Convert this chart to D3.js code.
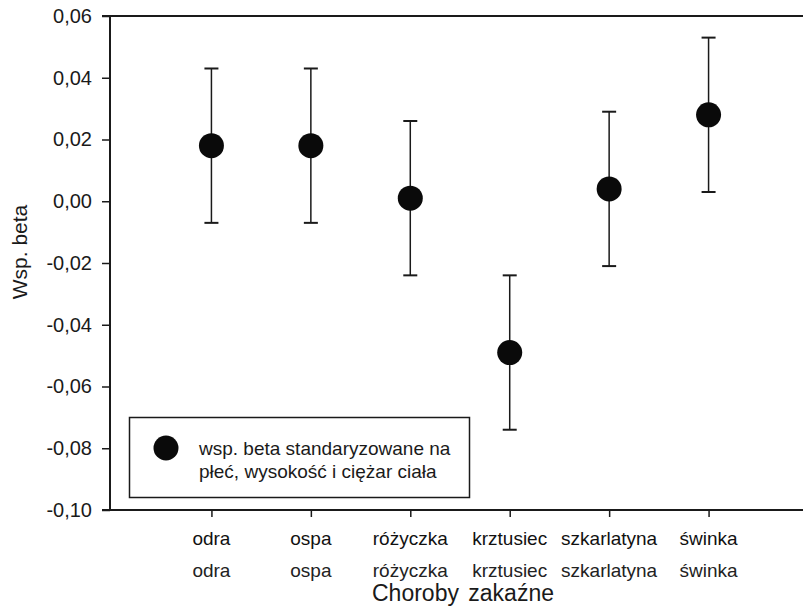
<!DOCTYPE html>
<html>
<head>
<meta charset="utf-8">
<script src="https://cdn.jsdelivr.net/npm/d3@7"></script>
<style>
  body { margin: 0; background: #fff; }
  svg { font-family: "Liberation Sans", Arial, sans-serif; }
</style>
</head>
<body>
<svg id="chart" width="803" height="606"></svg>
<script>
// Data
const categories = ['odra', 'ospa', 'różyczka', 'krztusiec', 'szkarlatyna', 'świnka'];
const beta = [0.018, 0.018, 0.001, -0.049, 0.004, 0.028];
const lower = [-0.007, -0.007, -0.024, -0.074, -0.021, 0.003];
const upper = [0.043, 0.043, 0.026, -0.024, 0.029, 0.053];
const yTicks = [0.06, 0.04, 0.02, 0.00, -0.02, -0.04, -0.06, -0.08, -0.10];

const svg = d3.select('#chart');
const ink = '#1a1a1a';

const x = d3.scaleLinear().domain([0, 7]).range([112, 808]);
const y = d3.scaleLinear().domain([-0.10, 0.06]).range([510, 16]);

const fmt = d => d3.format('.2f')(d).replace('.', ',').replace('−', '-');

// Y axis
const yAxis = svg.append('g')
  .attr('transform', 'translate(110,0)')
  .call(d3.axisLeft(y).tickValues(yTicks).tickSize(8).tickPadding(10).tickFormat(fmt));
yAxis.select('.domain').remove();
yAxis.selectAll('.tick line').attr('stroke', ink).attr('stroke-width', 1.5);
yAxis.selectAll('.tick text')
  .attr('fill', ink)
  .attr('font-size', '20px');

// X axis (ticks only, frame lines drawn below)
const xAxis = svg.append('g')
  .attr('transform', 'translate(0,510)')
  .call(d3.axisBottom(x).tickValues(d3.range(1, 7)).tickSize(7).tickFormat(''));
xAxis.select('.domain').remove();
xAxis.selectAll('.tick line').attr('stroke', ink).attr('stroke-width', 1.5);

// Frame: left, top, bottom
svg.append('line').attr('x1', 110).attr('x2', 110).attr('y1', y(0.06)).attr('y2', y(-0.10))
  .attr('stroke', ink).attr('stroke-width', 2);
svg.append('line').attr('x1', 102).attr('x2', 803).attr('y1', y(0.06)).attr('y2', y(0.06))
  .attr('stroke', ink).attr('stroke-width', 2);
svg.append('line').attr('x1', 102).attr('x2', 803).attr('y1', y(-0.10)).attr('y2', y(-0.10))
  .attr('stroke', ink).attr('stroke-width', 2);

// Category labels (two rows)
const labelRows = [
  { dy: 545, fill: '#111' },
  { dy: 577, fill: '#222' }
];
labelRows.forEach(row => {
  svg.append('g').selectAll('text')
    .data(categories)
    .enter().append('text')
    .attr('x', (d, i) => x(i + 1))
    .attr('y', row.dy)
    .attr('text-anchor', 'middle')
    .attr('font-size', '19px')
    .attr('fill', row.fill)
    .text(d => d);
});

// Axis titles
svg.append('text')
  .attr('x', 463).attr('y', 601)
  .attr('text-anchor', 'middle')
  .attr('font-size', '23px')
  .attr('fill', ink)
  .attr('word-spacing', '3px')
  .text('Choroby zakaźne');

svg.append('text')
  .attr('transform', 'translate(27,252) rotate(-90)')
  .attr('text-anchor', 'middle')
  .attr('font-size', '21px')
  .attr('fill', ink)
  .text('Wsp. beta');

// Error bars
const capW = 7;
const bars = svg.append('g').selectAll('g')
  .data(categories)
  .enter().append('g');
bars.append('line')
  .attr('x1', (d, i) => x(i + 1)).attr('x2', (d, i) => x(i + 1))
  .attr('y1', (d, i) => y(upper[i])).attr('y2', (d, i) => y(lower[i]))
  .attr('stroke', ink).attr('stroke-width', 1.5);
bars.append('line')
  .attr('x1', (d, i) => x(i + 1) - capW).attr('x2', (d, i) => x(i + 1) + capW)
  .attr('y1', (d, i) => y(upper[i])).attr('y2', (d, i) => y(upper[i]))
  .attr('stroke', ink).attr('stroke-width', 2);
bars.append('line')
  .attr('x1', (d, i) => x(i + 1) - capW).attr('x2', (d, i) => x(i + 1) + capW)
  .attr('y1', (d, i) => y(lower[i])).attr('y2', (d, i) => y(lower[i]))
  .attr('stroke', ink).attr('stroke-width', 2);
bars.append('circle')
  .attr('cx', (d, i) => x(i + 1))
  .attr('cy', (d, i) => y(beta[i]))
  .attr('r', 12.5)
  .attr('fill', '#0a0a0a');

// Legend
const legend = svg.append('g');
legend.append('rect')
  .attr('x', 129.5).attr('y', 417.5)
  .attr('width', 340).attr('height', 80)
  .attr('fill', '#fff')
  .attr('stroke', ink).attr('stroke-width', 1.5);
legend.append('circle')
  .attr('cx', 166).attr('cy', 448).attr('r', 12.5).attr('fill', '#0a0a0a');
legend.append('text')
  .attr('x', 199).attr('y', 455)
  .attr('font-size', '19px').attr('fill', ink)
  .text('wsp. beta standaryzowane na');
legend.append('text')
  .attr('x', 199).attr('y', 478)
  .attr('font-size', '19px').attr('fill', ink)
  .text('płeć, wysokość i ciężar ciała');
</script>
</body>
</html>
